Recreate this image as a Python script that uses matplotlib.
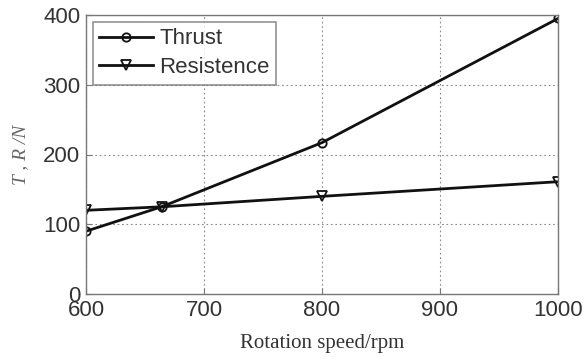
import matplotlib
matplotlib.use("Agg")
import matplotlib.pyplot as plt

speed = [600, 664, 800, 1000]
thrust = [90, 125, 217, 395]
resistance = [120, 125, 140, 161]
xticks = [600, 700, 800, 900, 1000]
yticks = [0, 100, 200, 300, 400]

fig = plt.figure(figsize=(5.84, 3.57), dpi=100)
ax = fig.add_axes([86/584, 1-294/357, 472/584, 279/357])

ax.plot(speed, thrust, color='#111111', lw=2.0, marker='o', ms=6, mfc='none', mew=1.3, label='Thrust')
ax.plot(speed, resistance, color='#111111', lw=2.0, marker='v', ms=7, mfc='none', mew=1.3, label='Resistence')

ax.set_xlim(600, 1000)
ax.set_ylim(0, 400)
ax.set_xticks(xticks)
ax.set_yticks(yticks)
ax.grid(True, ls=(0, (1.5, 2.5)), color='#888888', lw=0.8)
for s in ax.spines.values():
    s.set_color('#777777')
    s.set_linewidth(1.0)
ax.tick_params(direction='in', length=4, color='#777777', labelsize=16, labelcolor='#333333', pad=4)
for lab in ax.get_xticklabels() + ax.get_yticklabels():
    lab.set_family('Liberation Sans')

ax.set_xlabel('Rotation speed/rpm', family='Liberation Serif', fontsize=15, color='#333333', labelpad=10)
ax.set_ylabel('T , R /N', family='Liberation Serif', style='italic', fontsize=14, color='#666666', labelpad=10)

leg = ax.legend(loc='upper left', prop={'family': 'Liberation Sans', 'size': 16}, frameon=True,
                fancybox=False, edgecolor='#777777', borderaxespad=0.3, handlelength=2.4,
                borderpad=0.3, labelspacing=0.35, handletextpad=0.3)
leg.get_frame().set_linewidth(1.2)
for t in leg.get_texts():
    t.set_color('#333333')

fig.savefig('out.png', dpi=100)
